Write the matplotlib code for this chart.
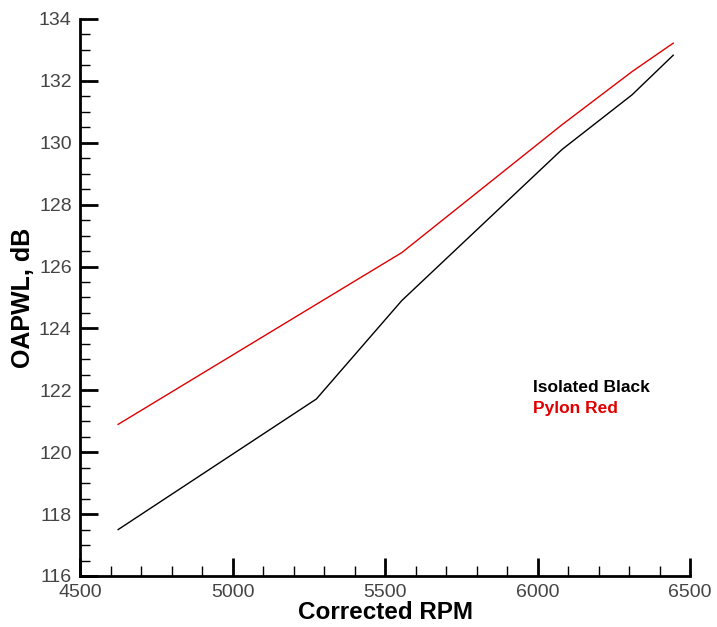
import matplotlib
matplotlib.use("Agg")
import matplotlib.pyplot as plt
from matplotlib.ticker import MultipleLocator

rpm = [4625, 5275, 5555, 6080, 6310, 6445]
isolated_db = [117.5, 121.72, 124.9, 129.78, 131.55, 132.83]
pylon_db = [120.9, 124.78, 126.45, 130.58, 132.3, 133.22]

plt.rcParams['font.family'] = ['Liberation Sans', 'DejaVu Sans']

fig = plt.figure(figsize=(7.17, 6.27), dpi=100)
ax = fig.add_axes([80/717, 51/627, 610/717, 557/627])

ax.plot(rpm, isolated_db, color='black', lw=1.0)
ax.plot(rpm, pylon_db, color='#e00000', lw=1.0)

ax.set_xlim(4500, 6500)
ax.set_ylim(116, 134)
ax.xaxis.set_major_locator(MultipleLocator(500))
ax.xaxis.set_minor_locator(MultipleLocator(100))
ax.yaxis.set_major_locator(MultipleLocator(2))
ax.yaxis.set_minor_locator(MultipleLocator(0.5))

for s in ['top', 'right']:
    ax.spines[s].set_visible(False)
for s in ['left', 'bottom']:
    ax.spines[s].set_linewidth(2)

ax.tick_params(which='major', direction='in', length=13, width=2,
               labelsize=14, labelcolor='#444444', pad=6)
ax.tick_params(which='minor', direction='in', length=7, width=1.0)

ax.set_xlabel('Corrected RPM', fontsize=17.5, fontweight='bold', labelpad=-0.5)
ax.set_ylabel('OAPWL, dB', fontsize=18, fontweight='bold', labelpad=3)

fig.text(533 / 717, 1 - 388 / 627, 'Isolated Black', fontsize=12.5,
         fontweight='bold', color='black', va='center', ha='left')
fig.text(533 / 717, 1 - 408 / 627, 'Pylon Red', fontsize=12.5,
         fontweight='bold', color='#e00000', va='center', ha='left')

fig.savefig('out.png', dpi=100)
